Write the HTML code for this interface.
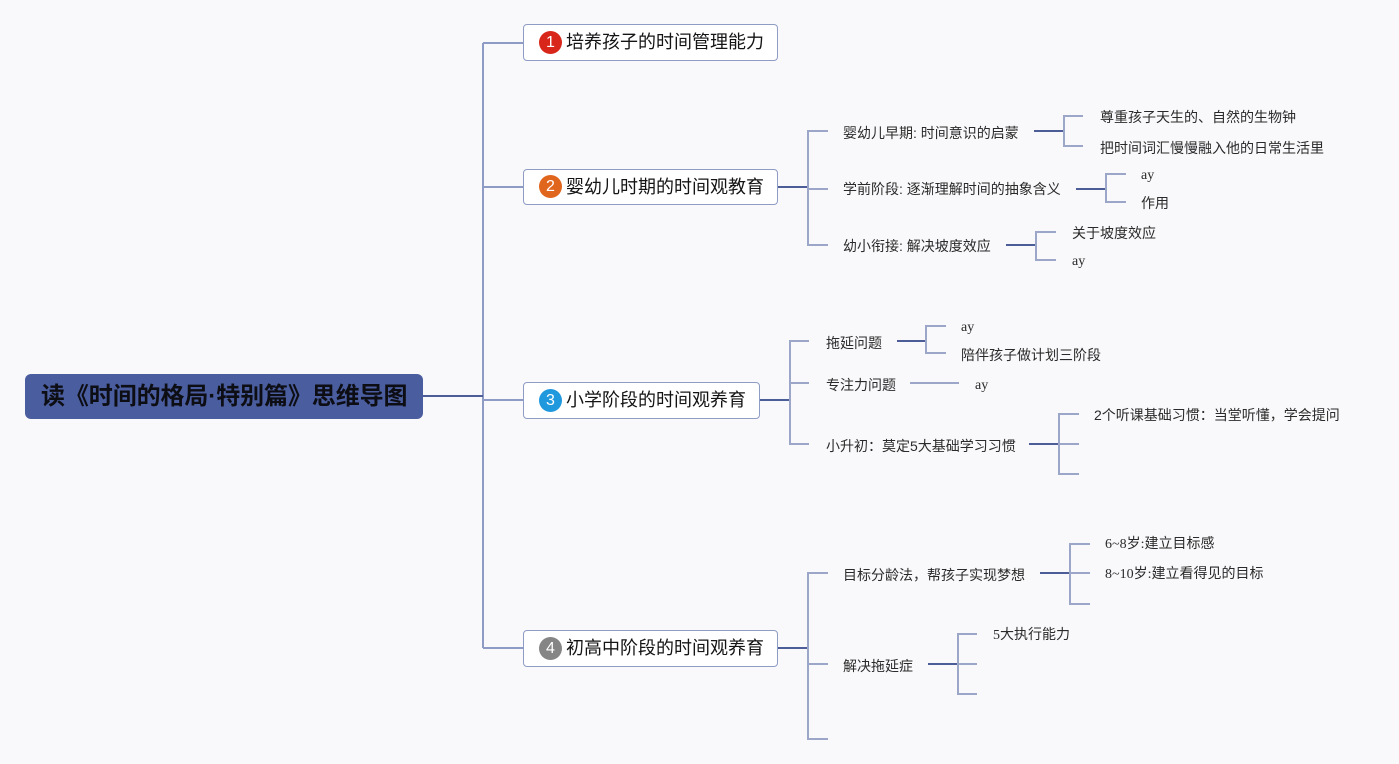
<!DOCTYPE html>
<html><head><meta charset="utf-8">
<style>
html,body{margin:0;padding:0;}
body{width:1399px;height:764px;background:#f9f9fb;position:relative;overflow:hidden;font-family:"Liberation Sans","Noto Sans CJK SC",sans-serif;}
svg{position:absolute;left:0;top:0;}
.root{position:absolute;left:25px;top:374px;width:398px;height:45px;background:#4a5d9e;border-radius:6px;}
.root span{position:absolute;left:16px;top:0;line-height:45px;font-size:24px;font-weight:bold;color:#0d0d14;white-space:nowrap;letter-spacing:-0.1px;}
.box{position:absolute;left:523px;height:35px;background:#fff;border:1.5px solid #8f9cc4;border-radius:4px;box-sizing:border-box;}
.box .b{position:absolute;left:15px;top:5px;width:23px;height:23px;border-radius:50%;color:#fff;font-size:16px;line-height:23px;text-align:center;}
.box .t{position:absolute;left:42px;top:0;line-height:33px;font-size:18px;color:#141414;white-space:nowrap;}
.l{position:absolute;font-size:14px;line-height:20px;height:20px;color:#2a2a2a;white-space:nowrap;}
.s{font-family:"Liberation Serif","Noto Sans CJK SC",serif;}
</style></head><body>
<svg width="1399" height="764" viewBox="0 0 1399 764">
<g fill="none" stroke-width="2">
<path d="M483 43 V648" stroke="#8e9bc4"/>
<path d="M423 396 H483" stroke="#4d5d98"/>
<path d="M483 43 H523 M483 187 H523 M483 400 H523 M483 648 H523" stroke="#8e9bc4"/>
<path d="M778 187 H808" stroke="#4d5d98"/>
<path d="M828 131 H808 V245 H828 M808 189 H828" stroke="#9ba6c9"/>
<path d="M1034 131 H1064" stroke="#4d5d98"/>
<path d="M1083 116 H1064 V146 H1083" stroke="#9ba6c9"/>
<path d="M1076 189 H1106" stroke="#4d5d98"/>
<path d="M1126 174 H1106 V202 H1126" stroke="#9ba6c9"/>
<path d="M1006 245 H1036" stroke="#4d5d98"/>
<path d="M1056 232 H1036 V260 H1056" stroke="#9ba6c9"/>
<path d="M760 400 H790" stroke="#4d5d98"/>
<path d="M809 341 H790 V444 H809 M790 383 H809" stroke="#9ba6c9"/>
<path d="M897 341 H926" stroke="#4d5d98"/>
<path d="M946 326 H926 V353 H946" stroke="#9ba6c9"/>
<path d="M910 383 H959" stroke="#9ba6c9"/>
<path d="M1029 444 H1059" stroke="#4d5d98"/>
<path d="M1079 414 H1059 V474 H1079 M1059 444 H1079" stroke="#9ba6c9"/>
<path d="M778 648 H808" stroke="#4d5d98"/>
<path d="M828 573 H808 V739 H828 M808 664 H828" stroke="#9ba6c9"/>
<path d="M1040 573 H1070" stroke="#4d5d98"/>
<path d="M1090 544 H1070 V604 H1090 M1070 573 H1090" stroke="#9ba6c9"/>
<path d="M928 664 H958" stroke="#4d5d98"/>
<path d="M977 634 H958 V694 H977 M958 664 H977" stroke="#9ba6c9"/>
</g>
</svg>

<div class="root"><span>读《时间的格局·特别篇》思维导图</span></div>

<div class="box" style="top:24px;width:255px;height:37px;"><div class="b" style="background:#d8261b;top:6px;">1</div><div class="t" style="line-height:35px;">培养孩子的时间管理能力</div></div>
<div class="box" style="top:169px;width:255px;height:36px;"><div class="b" style="background:#e0661d;">2</div><div class="t" style="line-height:34px;">婴幼儿时期的时间观教育</div></div>
<div class="box" style="top:382px;width:237px;height:37px;"><div class="b" style="background:#1f98de;top:6px;">3</div><div class="t" style="line-height:35px;">小学阶段的时间观养育</div></div>
<div class="box" style="top:630px;width:255px;height:37px;"><div class="b" style="background:#858585;top:6px;">4</div><div class="t" style="line-height:35px;">初高中阶段的时间观养育</div></div>

<div class="l" style="left:843px;top:123px;">婴幼儿早期: 时间意识的启蒙</div>
<div class="l" style="left:843px;top:179px;">学前阶段: 逐渐理解时间的抽象含义</div>
<div class="l" style="left:843px;top:236px;">幼小衔接: 解决坡度效应</div>
<div class="l" style="left:1100px;top:107px;">尊重孩子天生的、自然的生物钟</div>
<div class="l" style="left:1100px;top:138px;">把时间词汇慢慢融入他的日常生活里</div>
<div class="l s" style="left:1141px;top:166px;">ay</div>
<div class="l" style="left:1141px;top:193px;">作用</div>
<div class="l" style="left:1072px;top:223px;">关于坡度效应</div>
<div class="l s" style="left:1072px;top:252px;">ay</div>

<div class="l" style="left:826px;top:333px;">拖延问题</div>
<div class="l s" style="left:961px;top:318px;">ay</div>
<div class="l" style="left:961px;top:345px;">陪伴孩子做计划三阶段</div>
<div class="l" style="left:826px;top:375px;">专注力问题</div>
<div class="l s" style="left:975px;top:376px;">ay</div>
<div class="l" style="left:826px;top:436px;">小升初：莫定5大基础学习习惯</div>
<div class="l" style="left:1094px;top:405px;">2个听课基础习惯：当堂听懂，学会提问</div>

<div class="l" style="left:843px;top:565px;">目标分龄法，帮孩子实现梦想</div>
<div class="l s" style="left:1105px;top:535px;">6~8岁:建立目标感</div>
<div class="l s" style="left:1105px;top:565px;">8~10岁:建立看得见的目标</div>
<div class="l" style="left:843px;top:656px;">解决拖延症</div>
<div class="l s" style="left:993px;top:626px;">5大执行能力</div>
</body></html>
